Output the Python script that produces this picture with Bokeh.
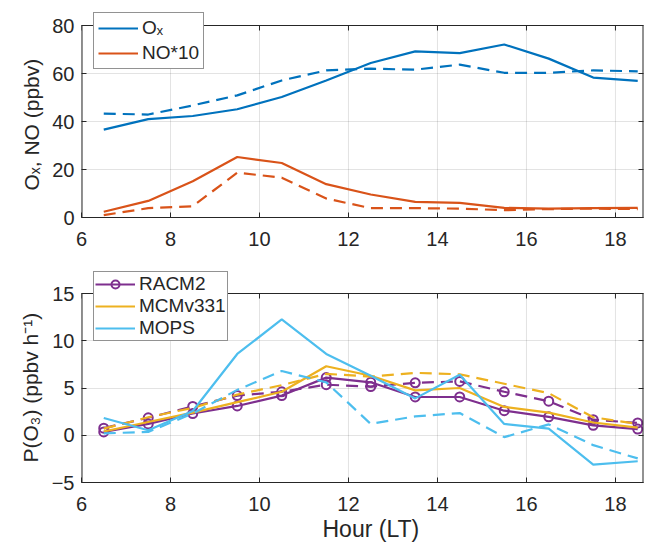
import math
from bokeh.plotting import figure
from bokeh.layouts import column
from bokeh.models import LinearAxis, Legend, FixedTicker, Range1d, Title
from bokeh.embed import file_html
from bokeh.resources import INLINE

hours = [6.5, 7.5, 8.5, 9.5, 10.5, 11.5, 12.5, 13.5, 14.5, 15.5, 16.5, 17.5, 18.5]

# Top panel
ox_obs = [36.6, 41.0, 42.3, 45.1, 50.2, 57.1, 64.4, 69.2, 68.5, 72.1, 66.2, 58.3, 56.9]
ox_mod = [43.3, 42.9, 46.7, 50.9, 57.1, 61.3, 62.0, 61.6, 63.7, 60.3, 60.3, 61.3, 60.9]
no10_obs = [2.4, 6.9, 15.1, 25.2, 22.7, 13.9, 9.6, 6.5, 6.1, 4.0, 3.7, 3.9, 4.0]
no10_mod = [1.0, 3.9, 4.7, 18.7, 16.6, 7.9, 3.9, 3.9, 3.7, 3.05, 3.5, 3.7, 3.5]

# Bottom panel
racm2_solid = [0.35, 1.2, 2.3, 3.1, 4.2, 6.1, 5.6, 4.05, 4.05, 2.6, 1.95, 1.05, 0.65]
racm2_dash = [0.75, 1.85, 3.05, 4.2, 4.6, 5.35, 5.15, 5.55, 5.7, 4.6, 3.6, 1.65, 1.3]
mcm_solid = [0.4, 1.4, 2.4, 3.5, 4.6, 7.3, 6.3, 4.75, 5.0, 3.0, 2.4, 1.35, 0.8]
mcm_dash = [0.7, 1.9, 2.9, 4.3, 5.3, 6.5, 6.2, 6.6, 6.45, 5.45, 4.45, 1.9, 1.2]
mops_solid = [1.83, 0.53, 2.57, 8.6, 12.25, 8.6, 6.3, 3.9, 6.4, 1.2, 0.7, -3.1, -2.75]
mops_dash = [0.2, 0.35, 2.3, 4.8, 6.8, 5.6, 1.2, 2.0, 2.35, -0.2, 1.15, -1.05, -2.45]

x_ticks = [6, 8, 10, 12, 14, 16, 18]
top_y_ticks = [0, 20, 40, 60, 80]
bot_y_ticks = [-5, 0, 5, 10, 15]
X_LO, X_HI = 6, 18.63

C_OX = "#0072BD"
C_NO = "#D95319"
C_RACM = "#7E2F8E"
C_MCM = "#EDB120"
C_MOPS = "#4DBEEE"
AX = "#262626"
FONT = "Liberation Sans"
TICK_FS = "20px"
LABEL_FS = "21px"
DASH = "12 7"
LW = 2.2


def style(p, yticks, y_lo, y_hi):
    p.outline_line_color = None
    for ax in p.xaxis + p.yaxis:
        ax.major_tick_line_color = AX
        ax.major_tick_in = 5
        ax.major_tick_out = 0
        ax.minor_tick_line_color = None
        ax.major_label_text_font = FONT
        ax.major_label_text_font_size = TICK_FS
        ax.major_label_text_color = AX
    p.xaxis.axis_line_color = AX
    p.yaxis.axis_line_color = None
    p.xaxis.ticker = FixedTicker(ticks=x_ticks)
    p.yaxis.ticker = FixedTicker(ticks=yticks)
    p.xaxis.major_label_standoff = 14
    p.yaxis.major_label_standoff = 7
    p.xgrid.visible = False
    p.ygrid.ticker = FixedTicker(ticks=yticks)
    p.ygrid.grid_line_color = AX
    p.ygrid.grid_line_alpha = 0.13
    g = p.segment(x0=x_ticks, y0=[y_lo] * len(x_ticks), x1=x_ticks, y1=[y_hi] * len(x_ticks),
                  line_color=AX, line_alpha=0.13, line_width=1)
    g.level = "underlay"
    p.segment(x0=[X_LO, X_HI], y0=[y_lo, y_lo], x1=[X_LO, X_HI], y1=[y_hi, y_hi],
              line_color=AX, line_width=2)
    p.segment(x0=[X_LO], y0=[y_hi], x1=[X_HI], y1=[y_hi], line_color=AX, line_width=1)
    p.ray(x=x_ticks, y=[y_hi] * len(x_ticks), length=5, length_units="screen",
          angle=-math.pi / 2, line_color=AX, line_width=1)
    right = LinearAxis(ticker=FixedTicker(ticks=yticks), major_label_text_font_size="0px",
                       major_tick_in=5, major_tick_out=0, minor_tick_line_color=None,
                       axis_line_color=None, major_tick_line_color=AX, major_label_standoff=0)
    p.add_layout(right, "right")


def side_label(p, text, side, offset, standoff, size=LABEL_FS, valign="bottom"):
    t = Title(text=text, align="left", offset=offset, text_font=FONT, text_font_size=size,
              text_font_style="normal", text_color=AX, standoff=standoff,
              vertical_align=valign)
    p.add_layout(t, side)


# ---------- top figure ----------
T_LO, T_HI = 0, 80
t_top = T_HI + (T_HI - T_LO) * 17 / 192
p1 = figure(width=650, height=262, output_backend="svg", toolbar_location=None,
            x_range=Range1d(X_LO, X_HI), y_range=Range1d(T_LO, t_top),
            min_border_left=81, min_border_right=7, min_border_top=8, min_border_bottom=45)
r_ox = p1.line(hours, ox_obs, color=C_OX, line_width=LW)
p1.line(hours, ox_mod, color=C_OX, line_width=LW, line_dash=DASH)
r_no = p1.line(hours, no10_obs, color=C_NO, line_width=LW)
p1.line(hours, no10_mod, color=C_NO, line_width=LW, line_dash=DASH)
style(p1, top_y_ticks, T_LO, T_HI)
side_label(p1, "Oₓ, NO (ppbv)", "left", 27, 10, valign="top")

leg1 = Legend(items=[("Oₓ", [r_ox]), ("NO*10", [r_no])], location=(12, 148),
              label_text_font=FONT, label_text_font_size="19px", label_text_color=AX,
              glyph_width=40, glyph_height=20, label_height=20, spacing=3,
              padding=4, margin=0, border_line_color=AX, border_line_width=1,
              background_fill_alpha=1.0, label_standoff=4)
p1.add_layout(leg1, "center")

# ---------- bottom figure ----------
B_LO, B_HI = -5, 15
b_top = B_HI + (B_HI - B_LO) * 31 / 189
p2 = figure(width=650, height=281, output_backend="svg", toolbar_location=None,
            x_range=Range1d(X_LO, X_HI), y_range=Range1d(B_LO, b_top),
            min_border_left=81, min_border_right=7, min_border_top=0, min_border_bottom=61)
r_racm = p2.line(hours, racm2_solid, color=C_RACM, line_width=LW)
r_racm_m = p2.scatter(hours, racm2_solid, marker="circle", size=9, fill_color=None,
                      line_color=C_RACM, line_width=2)
p2.line(hours, racm2_dash, color=C_RACM, line_width=LW, line_dash=DASH)
p2.scatter(hours, racm2_dash, marker="circle", size=9, fill_color=None,
           line_color=C_RACM, line_width=2)
r_mcm = p2.line(hours, mcm_solid, color=C_MCM, line_width=LW)
p2.line(hours, mcm_dash, color=C_MCM, line_width=LW, line_dash=DASH)
r_mops = p2.line(hours, mops_solid, color=C_MOPS, line_width=LW)
p2.line(hours, mops_dash, color=C_MOPS, line_width=LW, line_dash=DASH)
style(p2, bot_y_ticks, B_LO, B_HI)
side_label(p2, "P(O₃) (ppbv h⁻¹)", "left", 20, 10, valign="top")
side_label(p2, "Hour (LT)", "below", 241, 0, "23px")

leg2 = Legend(items=[("RACM2", [r_racm, r_racm_m]), ("MCMv331", [r_mcm]), ("MOPS", [r_mops])],
              location=(12, 141),
              label_text_font=FONT, label_text_font_size="19px", label_text_color=AX,
              glyph_width=40, glyph_height=20, label_height=20, spacing=0,
              padding=1, margin=0, border_line_color=AX, border_line_width=1,
              background_fill_alpha=1.0, label_standoff=4)
p2.add_layout(leg2, "center")

layout = column(p1, p2, spacing=0)
open("out.html", "w").write(file_html(layout, INLINE))
